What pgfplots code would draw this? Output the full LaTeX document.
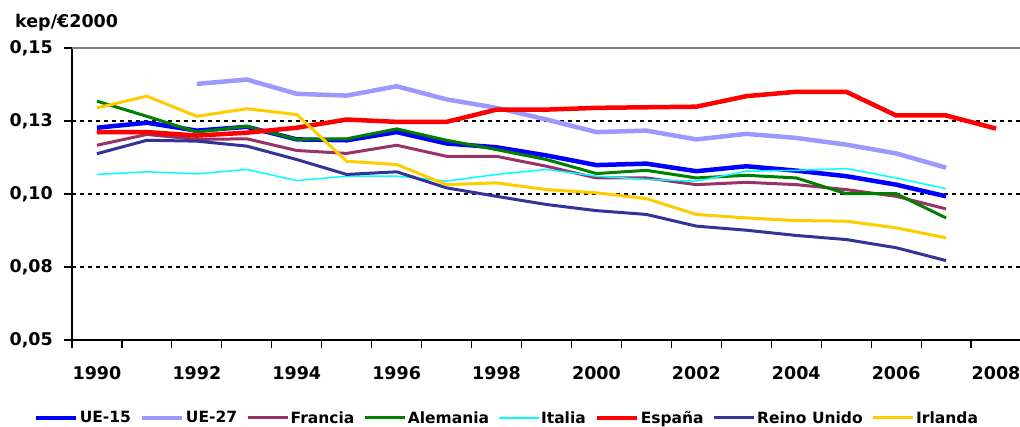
\documentclass[border=0pt]{standalone}
\usepackage{pgfplots}
\pgfplotsset{compat=1.18}
\usepackage{fontspec}
\setmainfont{DejaVu Sans}
\definecolor{ue15}{HTML}{0000FF}
\definecolor{ue27}{HTML}{9999FF}
\definecolor{fra}{HTML}{993366}
\definecolor{ale}{HTML}{008000}
\definecolor{ita}{HTML}{00FFFF}
\definecolor{esp}{HTML}{FF0000}
\definecolor{ruk}{HTML}{333399}
\definecolor{irl}{HTML}{FFCC00}
\begin{document}
\begin{tikzpicture}[x=1pt,y=1pt]
\useasboundingbox (0,0) rectangle (1020,426);
\node[anchor=base west, font=\bfseries\fontsize{17.5}{20}\selectfont, inner sep=0] at (15,398) {kep/€2000};
\begin{axis}[
 at={(72pt,86pt)}, anchor=south west,
 width=949pt, height=292pt, scale only axis,
 xmin=1989.5, xmax=2008.5, ymin=0.05, ymax=0.15,
 axis lines=left, axis line style={-, black, line width=1.5pt},
 clip=false,
 tick align=outside, major tick length=8pt,
 every tick/.style={black, line width=1.2pt},
 xtick={1989.5,1990.5,...,2008.5}, xticklabels={},
 extra x ticks={1990,1992,...,2008},
 extra x tick labels={1990,1992,1994,1996,1998,2000,2002,2004,2006,2008},
 extra x tick style={major tick length=0pt, xticklabel style={anchor=north, inner sep=0pt, yshift=-26pt}},
 ytick={0.05,0.075,0.1,0.125,0.15},
 yticklabels={{\textbf{0,05}},{\textbf{0,08}},{\textbf{0,10}},{\textbf{0,13}},{\textbf{0,15}}},
 yticklabel style={anchor=east, inner sep=0pt, xshift=-11pt},
 ticklabel style={font=\bfseries\fontsize{17.5}{20}\selectfont},
 legend columns=8,
 legend style={at={(0.458,-0.267)}, anchor=center, draw=none, fill=none,
   font=\bfseries\fontsize{15.5}{18}\selectfont,
   /tikz/every even column/.append style={column sep=7.5pt},
   nodes={inner sep=1.5pt}},
 legend image code/.code={\draw[#1] (0pt,0pt) -- (40pt,0pt);},
]
\draw[black, line width=1.2pt, dash pattern=on 4pt off 4pt] (axis cs:1989.5,0.075) -- (axis cs:2008.5,0.075);
\draw[black, line width=1.2pt, dash pattern=on 4pt off 4pt] (axis cs:1989.5,0.1) -- (axis cs:2008.5,0.1);
\draw[black, line width=1.2pt, dash pattern=on 4pt off 4pt] (axis cs:1989.5,0.125) -- (axis cs:2008.5,0.125);
\draw[gray, line width=1.2pt] (axis cs:1989.5,0.15) -- (axis cs:2008.5,0.15);
\addplot[ue15, line width=4.5pt] coordinates {
(1990,0.1227)(1991,0.1244)(1992,0.1217)(1993,0.1230)(1994,0.1187)(1995,0.1184)(1996,0.1212)(1997,0.1173)(1998,0.1160)(1999,0.1132)(2000,0.1099)(2001,0.1104)(2002,0.1078)(2003,0.1095)(2004,0.1080)(2005,0.1061)(2006,0.1032)(2007,0.0992)};
\addlegendentry{UE-15}
\addplot[ue27, line width=4.5pt] coordinates {
(1992,0.1377)(1993,0.1392)(1994,0.1343)(1995,0.1337)(1996,0.1369)(1997,0.1324)(1998,0.1295)(1999,0.1255)(2000,0.1212)(2001,0.1217)(2002,0.1187)(2003,0.1206)(2004,0.1192)(2005,0.1169)(2006,0.1139)(2007,0.1090)};
\addlegendentry{UE-27}
\addplot[fra, line width=3pt] coordinates {
(1990,0.1167)(1991,0.1204)(1992,0.1187)(1993,0.1189)(1994,0.1149)(1995,0.1139)(1996,0.1167)(1997,0.1129)(1998,0.1129)(1999,0.1095)(2000,0.1055)(2001,0.1055)(2002,0.1032)(2003,0.1040)(2004,0.1032)(2005,0.1015)(2006,0.0992)(2007,0.0949)};
\addlegendentry{Francia}
\addplot[ale, line width=3pt] coordinates {
(1990,0.1318)(1991,0.1266)(1992,0.1212)(1993,0.1232)(1994,0.1187)(1995,0.1189)(1996,0.1223)(1997,0.1184)(1998,0.1152)(1999,0.1118)(2000,0.1070)(2001,0.1081)(2002,0.1055)(2003,0.1064)(2004,0.1055)(2005,0.1001)(2006,0.1001)(2007,0.0918)};
\addlegendentry{Alemania}
\addplot[ita, line width=1.5pt] coordinates {
(1990,0.1067)(1991,0.1076)(1992,0.1069)(1993,0.1084)(1994,0.1046)(1995,0.1061)(1996,0.1061)(1997,0.1044)(1998,0.1067)(1999,0.1084)(2000,0.1061)(2001,0.1050)(2002,0.1044)(2003,0.1078)(2004,0.1081)(2005,0.1087)(2006,0.1055)(2007,0.1018)};
\addlegendentry{Italia}
\addplot[esp, line width=4.5pt] coordinates {
(1990,0.1212)(1991,0.1212)(1992,0.1200)(1993,0.1210)(1994,0.1227)(1995,0.1255)(1996,0.1247)(1997,0.1247)(1998,0.1289)(1999,0.1289)(2000,0.1295)(2001,0.1297)(2002,0.1299)(2003,0.1335)(2004,0.1350)(2005,0.1350)(2006,0.1269)(2007,0.1269)(2008,0.1224)};
\addlegendentry{España}
\addplot[ruk, line width=3pt] coordinates {
(1990,0.1138)(1991,0.1184)(1992,0.1181)(1993,0.1164)(1994,0.1118)(1995,0.1067)(1996,0.1076)(1997,0.1021)(1998,0.0992)(1999,0.0964)(2000,0.0943)(2001,0.0930)(2002,0.0890)(2003,0.0876)(2004,0.0858)(2005,0.0844)(2006,0.0816)(2007,0.0772)};
\addlegendentry{Reino Unido}
\addplot[irl, line width=3pt] coordinates {
(1990,0.1295)(1991,0.1335)(1992,0.1266)(1993,0.1292)(1994,0.1272)(1995,0.1112)(1996,0.1101)(1997,0.1032)(1998,0.1038)(1999,0.1015)(2000,0.1004)(2001,0.0984)(2002,0.0930)(2003,0.0918)(2004,0.0909)(2005,0.0907)(2006,0.0884)(2007,0.0850)};
\addlegendentry{Irlanda}
\end{axis}
\end{tikzpicture}
\end{document}
